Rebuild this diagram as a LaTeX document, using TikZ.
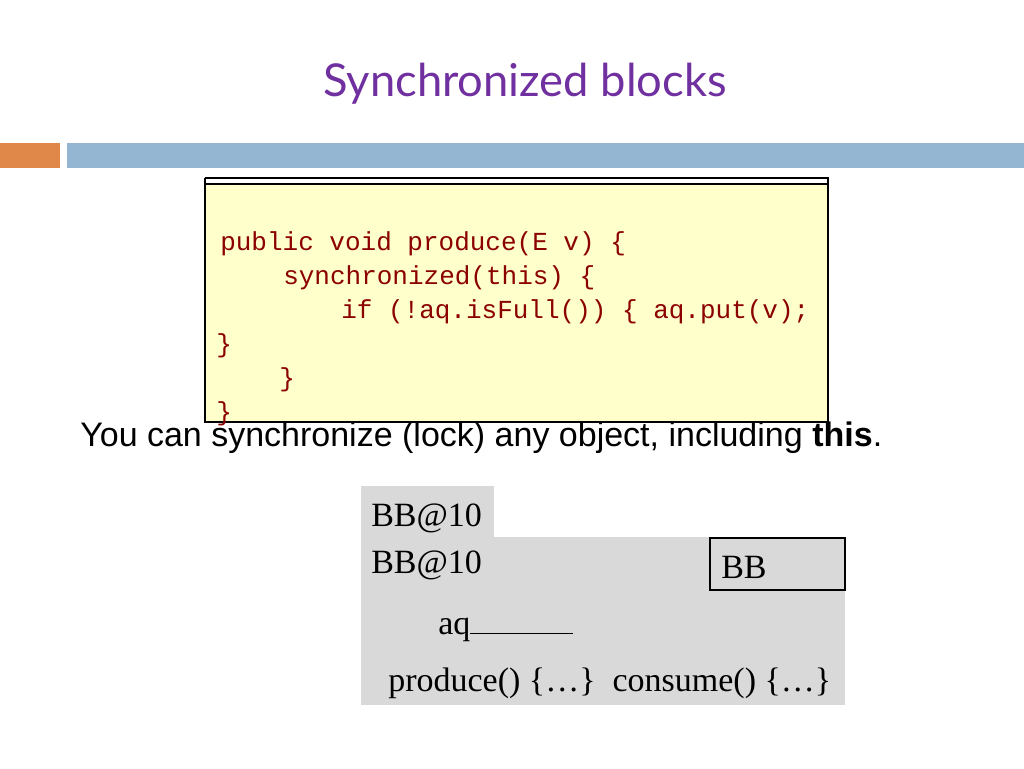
\documentclass[tikz,border=0pt]{standalone}
\usepackage{fontspec}
\setmainfont{Liberation Serif}
\newfontfamily\titlefont{Lato}
\newfontfamily\sansf{Liberation Sans}
\newfontfamily\codef{Liberation Mono}
\definecolor{titlec}{HTML}{7030A0}
\definecolor{orangec}{HTML}{E0874A}
\definecolor{bluec}{HTML}{94B6D2}
\definecolor{codebg}{HTML}{FFFFCC}
\definecolor{codec}{HTML}{8B0000}
\definecolor{grayc}{HTML}{D9D9D9}
\begin{document}
\begin{tikzpicture}[x=0.75pt,y=-0.75pt,
  code/.style={anchor=base west,inner sep=0,font=\codef\fontsize{19.5}{22}\selectfont,text=codec},
  ser/.style={anchor=base west,inner sep=0,font=\fontsize{25.5}{28}\selectfont}]
\useasboundingbox (0,0) rectangle (1024,768);
\node (title) at (525,84) {\titlefont\fontsize{34}{40}\selectfont\color{titlec}Synchronized blocks};
\fill[orangec] (0,143) rectangle (60,168);
\fill[bluec] (67,143) rectangle (1024,168);
\draw[fill=codebg,line width=0.8pt] (205,184) rectangle (828,422);
\draw[line width=0.8pt] (205,178) -- (828,178) -- (828,184) (205,178) -- (205,184);
\node[code] (l1) at (220,250) {public void produce(E v) \{};
\node[code] (l2) at (283,284) {synchronized(this) \{};
\node[code] (l3) at (341,318) {if (!aq.isFull()) \{ aq.put(v);};
\node[code] (l4) at (216,352) {\}};
\node[code] (l5) at (279,386) {\}};
\node[code] (l6) at (216,420) {\}};
\node[anchor=base west,inner sep=0,font=\sansf\fontsize{25.5}{28}\selectfont] (msg) at (80,446) {You can synchronize (lock) any object, including \textbf{this}.};
\fill[grayc] (361,486) rectangle (494,537);
\fill[grayc] (361,537) rectangle (845,705);
\node[ser] (t1) at (371,526) {BB@10};
\node[ser] (t2) at (371,573) {BB@10};
\node[draw=black,line width=0.8pt,minimum width=101.25pt,minimum height=39pt,inner sep=0] (bb) at (777.5,564) {};
\node[ser] (t3) at (721,578) {BB};
\node[ser] (t4) at (438,634) {aq\rule{77pt}{0.6pt}};
\node[ser] (t5) at (388,691) {produce() \{…\}\ \ consume() \{…\}};
\end{tikzpicture}
\end{document}
